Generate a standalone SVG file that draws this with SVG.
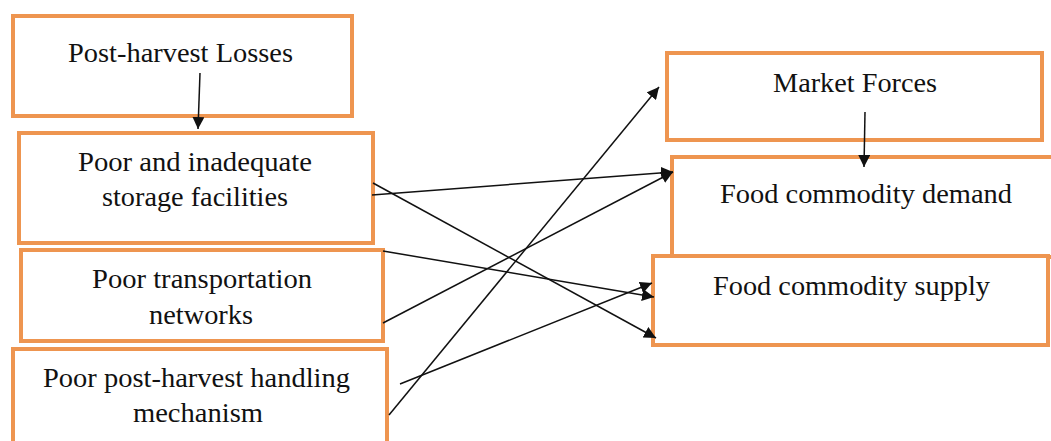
<svg xmlns="http://www.w3.org/2000/svg" width="1051" height="441" viewBox="0 0 1051 441">
<defs>
<style>
.box{fill:#fff;stroke:#EE9550;stroke-width:4}
.t{font-family:'Liberation Serif','DejaVu Serif','Times New Roman',serif;font-size:27px;fill:#111}
.c{stroke:#111;stroke-width:1.5;fill:none;marker-end:url(#ah)}
</style>
<marker id="ah" viewBox="0 0 10 10" refX="10" refY="5" markerWidth="12" markerHeight="12" markerUnits="userSpaceOnUse" orient="auto">
<path d="M0,0 L10,5 L0,10 z" fill="#111"/>
</marker>
</defs>
<rect width="1051" height="441" fill="#fff"/>
<g id="n-losses">
<rect class="box" x="13" y="16" width="339" height="100"/>
<text class="t" font-family="Liberation Serif, DejaVu Serif, serif" x="68" y="62" textLength="225" lengthAdjust="spacingAndGlyphs">Post-harvest Losses</text>
</g>
<g id="n-storage">
<rect class="box" x="19" y="133" width="354" height="110"/>
<text class="t" font-family="Liberation Serif, DejaVu Serif, serif" x="78" y="171" textLength="234" lengthAdjust="spacingAndGlyphs">Poor and inadequate</text>
<text class="t" font-family="Liberation Serif, DejaVu Serif, serif" x="102" y="206" textLength="186" lengthAdjust="spacingAndGlyphs">storage facilities</text>
</g>
<g id="n-transport">
<rect class="box" x="21" y="250" width="362" height="91"/>
<text class="t" font-family="Liberation Serif, DejaVu Serif, serif" x="92" y="288" textLength="220" lengthAdjust="spacingAndGlyphs">Poor transportation</text>
<text class="t" font-family="Liberation Serif, DejaVu Serif, serif" x="149" y="324" textLength="104" lengthAdjust="spacingAndGlyphs">networks</text>
</g>
<g id="n-handling">
<rect class="box" x="13" y="349" width="374" height="100"/>
<text class="t" font-family="Liberation Serif, DejaVu Serif, serif" x="43" y="387" textLength="307" lengthAdjust="spacingAndGlyphs">Poor post-harvest handling</text>
<text class="t" font-family="Liberation Serif, DejaVu Serif, serif" x="133" y="422" textLength="130" lengthAdjust="spacingAndGlyphs">mechanism</text>
</g>
<g id="n-market">
<rect class="box" x="667" y="53" width="375" height="87"/>
<text class="t" font-family="Liberation Serif, DejaVu Serif, serif" x="773" y="92" textLength="164" lengthAdjust="spacingAndGlyphs">Market Forces</text>
</g>
<g id="n-demand">
<rect class="box" x="672" y="157" width="390" height="100"/>
<text class="t" font-family="Liberation Serif, DejaVu Serif, serif" x="720" y="203" textLength="292" lengthAdjust="spacingAndGlyphs">Food commodity demand</text>
</g>
<g id="n-supply">
<rect class="box" x="653" y="256" width="395" height="89"/>
<text class="t" font-family="Liberation Serif, DejaVu Serif, serif" x="713" y="295" textLength="277" lengthAdjust="spacingAndGlyphs">Food commodity supply</text>
</g>
<g id="connectors">
<line class="c" x1="200" y1="73" x2="198" y2="129"/>
<line class="c" x1="865" y1="112" x2="864" y2="167"/>
<line class="c" x1="372" y1="195" x2="673" y2="172"/>
<line class="c" x1="373" y1="183" x2="656" y2="338"/>
<line class="c" x1="383" y1="251" x2="654" y2="297"/>
<line class="c" x1="383" y1="323" x2="673" y2="172"/>
<line class="c" x1="400" y1="384" x2="652" y2="283"/>
<line class="c" x1="389" y1="415" x2="659" y2="87"/>
</g>
</svg>
